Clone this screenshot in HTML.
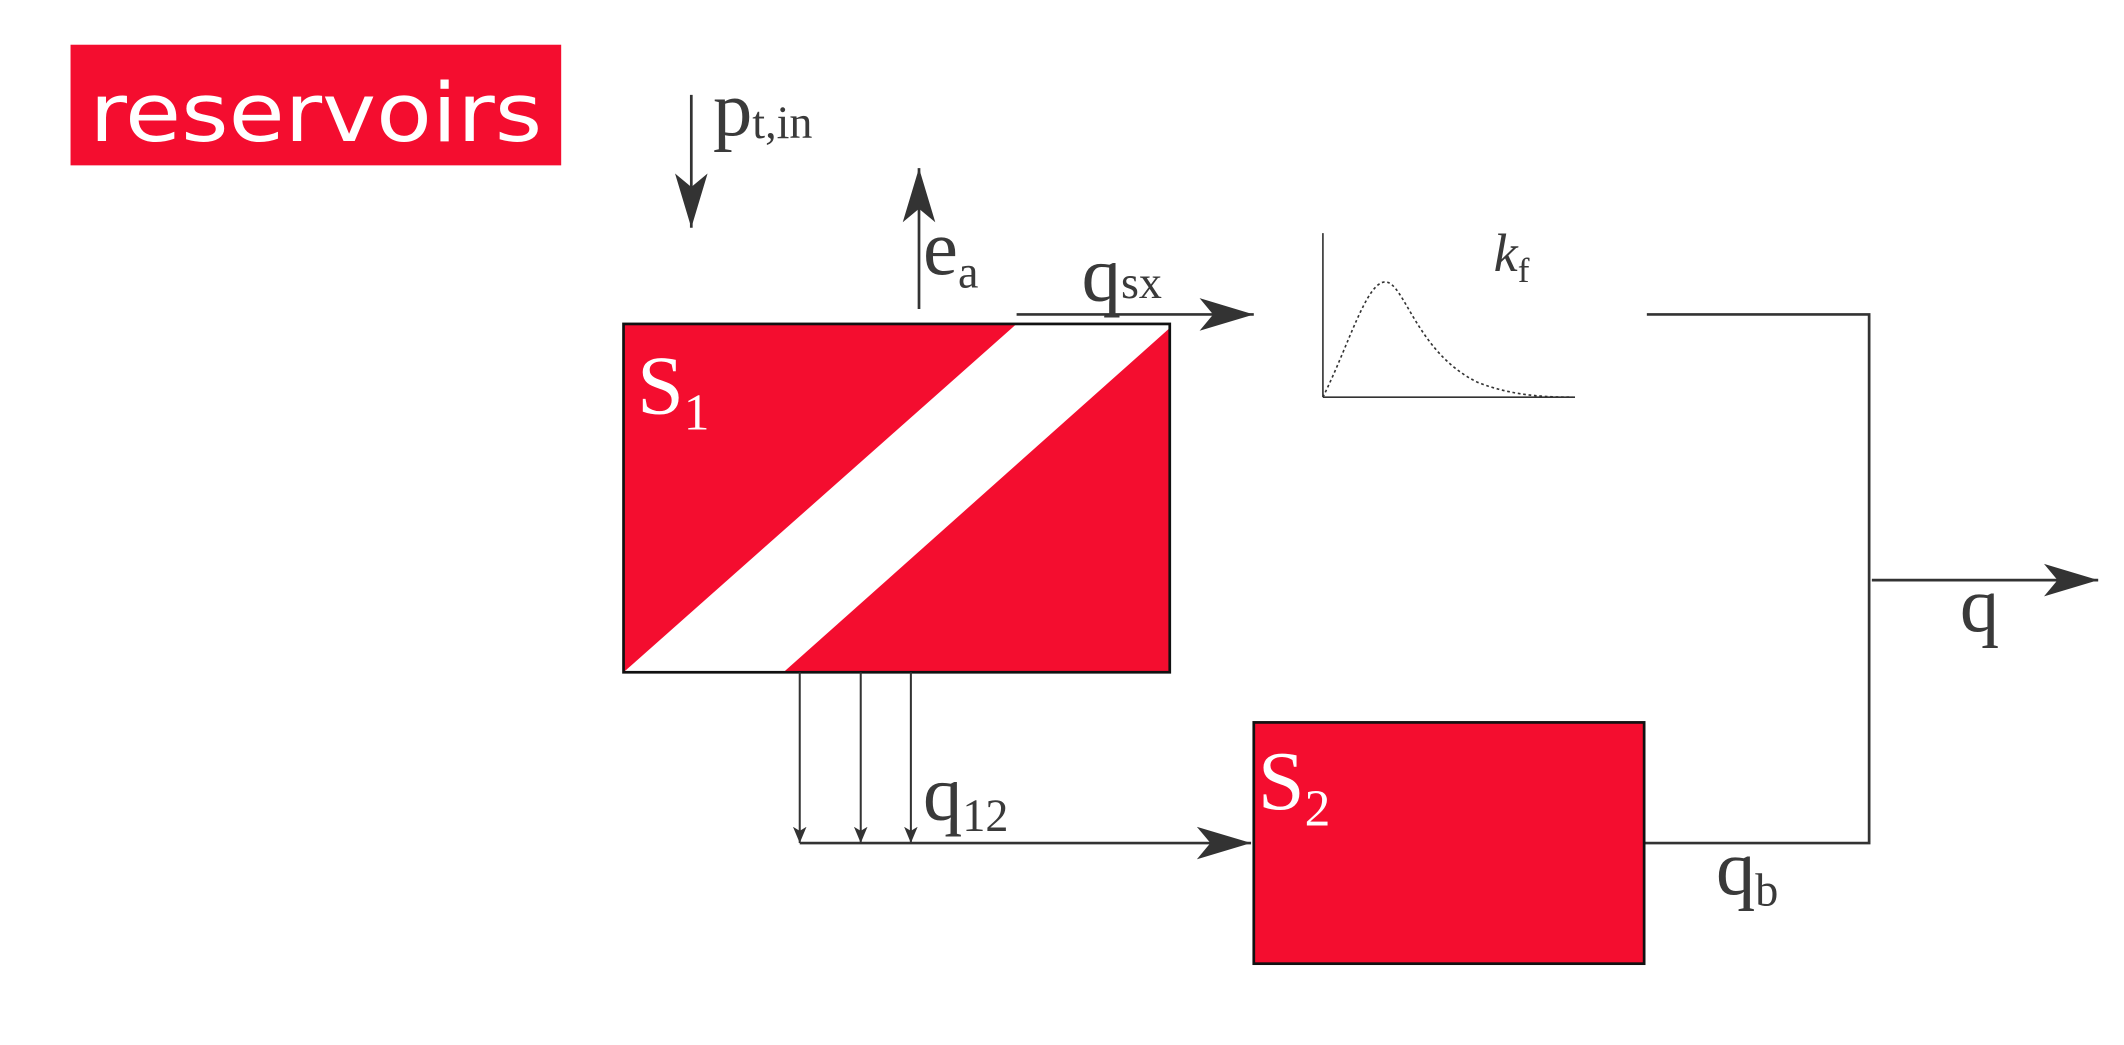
<!DOCTYPE html>
<html><head><meta charset="utf-8"><style>
html,body{margin:0;padding:0;background:#fff;}
svg{display:block;}
text{font-family:"Liberation Serif",serif;fill:#3a3a3a;}
</style></head><body>
<svg width="2124" height="1045" viewBox="0 0 1567 771" xmlns="http://www.w3.org/2000/svg">
<defs>
<marker id="ah" markerUnits="userSpaceOnUse" markerWidth="44" markerHeight="34" refX="40" refY="17" orient="auto">
<path d="M0,5 L40,17 L0,29 L10,17 Z" fill="#333"/>
</marker>
<marker id="ahs" markerUnits="userSpaceOnUse" markerWidth="14" markerHeight="20" refX="12" refY="5" orient="auto">
<path d="M0,0 L12,5 L0,10 L3,5 Z" fill="#333"/>
</marker>
</defs>

<g>
<rect x="52" y="33" width="362" height="89" fill="#F40D2F"/>
<text x="66" y="104" textLength="334" lengthAdjust="spacingAndGlyphs" style="font-family:'DejaVu Sans','Liberation Sans',sans-serif;fill:#fff;font-size:60px;font-weight:500;">reservoirs</text>
</g>

<g>
<line x1="510" y1="70" x2="510" y2="168" stroke="#333" stroke-width="2" marker-end="url(#ah)"/>
<text x="526" y="100" font-size="58">p<tspan font-size="34" dy="2">t,in</tspan></text>
</g>

<g>
<line x1="678" y1="228" x2="678" y2="124" stroke="#333" stroke-width="2" marker-end="url(#ah)"/>
<text x="681" y="202" font-size="58">e<tspan font-size="34" dy="10">a</tspan></text>
</g>

<g>
<rect x="460" y="239" width="403" height="257" fill="#F40D2F"/>
<polygon points="460,496 578,496 863,242 863,239 750,239" fill="#fff"/>
<rect x="460" y="239" width="403" height="257" fill="none" stroke="#111" stroke-width="2"/>
<text x="470" y="305" font-size="62" style="fill:#fff">S<tspan font-size="38" dy="12">1</tspan></text>
</g>

<g>
<line x1="750" y1="232" x2="925" y2="232" stroke="#333" stroke-width="2" marker-end="url(#ah)"/>
<text x="798" y="222" font-size="58">q<tspan font-size="34" dy="-2">sx</tspan></text>
</g>

<g>
<line x1="976" y1="172" x2="976" y2="293" stroke="#333" stroke-width="1.2"/>
<line x1="976" y1="293" x2="1162" y2="293" stroke="#333" stroke-width="1.2"/>
<path d="M976,293 C995,255 1008,208 1022,208 C1036,208 1045,260 1090,282 C1115,292 1140,293 1160,293" fill="none" stroke="#333" stroke-width="1.2" stroke-dasharray="2,2"/>
<text x="1102" y="200" font-size="40" font-style="italic">k<tspan font-size="26" font-style="normal" dy="8">f</tspan></text>
</g>

<g>
<polyline points="1215,232 1379,232 1379,622 1214,622" fill="none" stroke="#333" stroke-width="2"/>
</g>

<g>
<line x1="1381" y1="428" x2="1548" y2="428" stroke="#333" stroke-width="2" marker-end="url(#ah)"/>
<text x="1446" y="466" font-size="58">q</text>
</g>

<g>
<line x1="590" y1="496" x2="590" y2="622" stroke="#333" stroke-width="1.5" marker-end="url(#ahs)"/>
<line x1="635" y1="496" x2="635" y2="622" stroke="#333" stroke-width="1.5" marker-end="url(#ahs)"/>
<line x1="672" y1="496" x2="672" y2="622" stroke="#333" stroke-width="1.5" marker-end="url(#ahs)"/>
<line x1="590" y1="622" x2="923" y2="622" stroke="#333" stroke-width="2" marker-end="url(#ah)"/>
<text x="681" y="605" font-size="58">q<tspan font-size="34" dy="8">12</tspan></text>
</g>

<g>
<rect x="925" y="533" width="288" height="178" fill="#F40D2F" stroke="#111" stroke-width="2"/>
<text x="928" y="597" font-size="62" style="fill:#fff">S<tspan font-size="38" dy="12">2</tspan></text>
</g>

<text x="1266" y="660" font-size="58">q<tspan font-size="34" dy="8">b</tspan></text>
</svg>
</body></html>
